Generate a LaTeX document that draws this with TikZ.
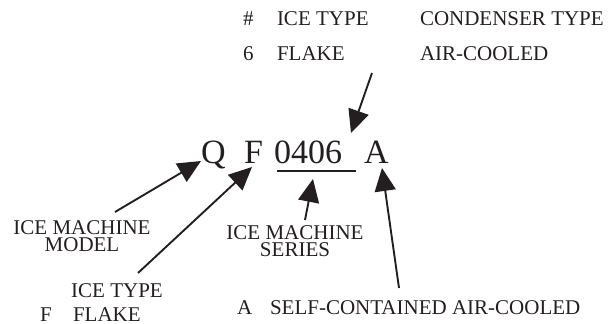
\documentclass[tikz,border=0pt]{standalone}
\usepackage{fontspec}
\setmainfont{Liberation Serif}
\usetikzlibrary{arrows.meta}
\definecolor{ink}{RGB}{35,31,32}
\tikzset{
  lbl/.style={inner sep=0pt, outer sep=0pt, text=ink, font=\fontsize{21}{17}\selectfont},
  twoline/.style={lbl, align=center, anchor=north},
  code/.style={inner sep=0pt, outer sep=0pt, text=ink, font=\fontsize{34}{34}\selectfont, anchor=base west},
  pointer/.style={draw=ink, line width=1.9pt, -{Triangle[length=23pt,width=21pt]}},
}
\begin{document}
\begin{tikzpicture}[x=1pt, y=-1pt]
\useasboundingbox (0,0) rectangle (608,324);

% key table for the last two positions
\node[lbl, anchor=base west] (hash) at (243,25) {\#};
\node[lbl, anchor=base west] (ictH) at (277,25) {ICE TYPE};
\node[lbl, anchor=base west] (cndH) at (420,25) {CONDENSER TYPE};
\node[lbl, anchor=base west] (six)  at (243,60) {6};
\node[lbl, anchor=base west] (flk)  at (277,60) {FLAKE};
\node[lbl, anchor=base west] (air)  at (420,60) {AIR-COOLED};

% model number
\node[code] (q)  at (201,163) {Q};
\node[code] (f)  at (244,163) {F};
\node[code] (ser) at (274,163) {0406};
\node[code] (a)  at (364,163) {A};
\coordinate (ulL) at (277,171);
\coordinate (ulR) at (356,171);
\draw[ink, line width=1.5pt] (ulL) -- (ulR);

% descriptive labels
\node[twoline] (mod) at (82,221) {ICE MACHINE\\MODEL};
\node[lbl, anchor=base] (ity)  at (117,297) {ICE TYPE};
\node[lbl, anchor=base west] (fL) at (40,321) {F};
\node[lbl, anchor=base west] (fN) at (73,321) {FLAKE};
\node[twoline] (sers) at (295,226) {ICE MACHINE\\SERIES};
\node[lbl, anchor=base west] (aL) at (237,314) {A};
\node[lbl, anchor=base west] (aN) at (270,314) {SELF-CONTAINED AIR-COOLED};

% arrow end points
\coordinate (cTail) at (372,73);  \coordinate (cTip) at (351,133);
\coordinate (qTail) at (115,212); \coordinate (qTip) at (201,161);
\coordinate (fTail) at (138,273); \coordinate (fTip) at (252,167);
\coordinate (sTail) at (305,220); \coordinate (sTip) at (313,179);
\coordinate (aTail) at (399,288); \coordinate (aTip) at (382,168);

\draw[pointer] (cTail) -- (cTip);
\draw[pointer] (qTail) -- (qTip);
\draw[pointer] (fTail) -- (fTip);
\draw[pointer] (sTail) -- (sTip);
\draw[pointer] (aTail) -- (aTip);
\end{tikzpicture}
\end{document}
